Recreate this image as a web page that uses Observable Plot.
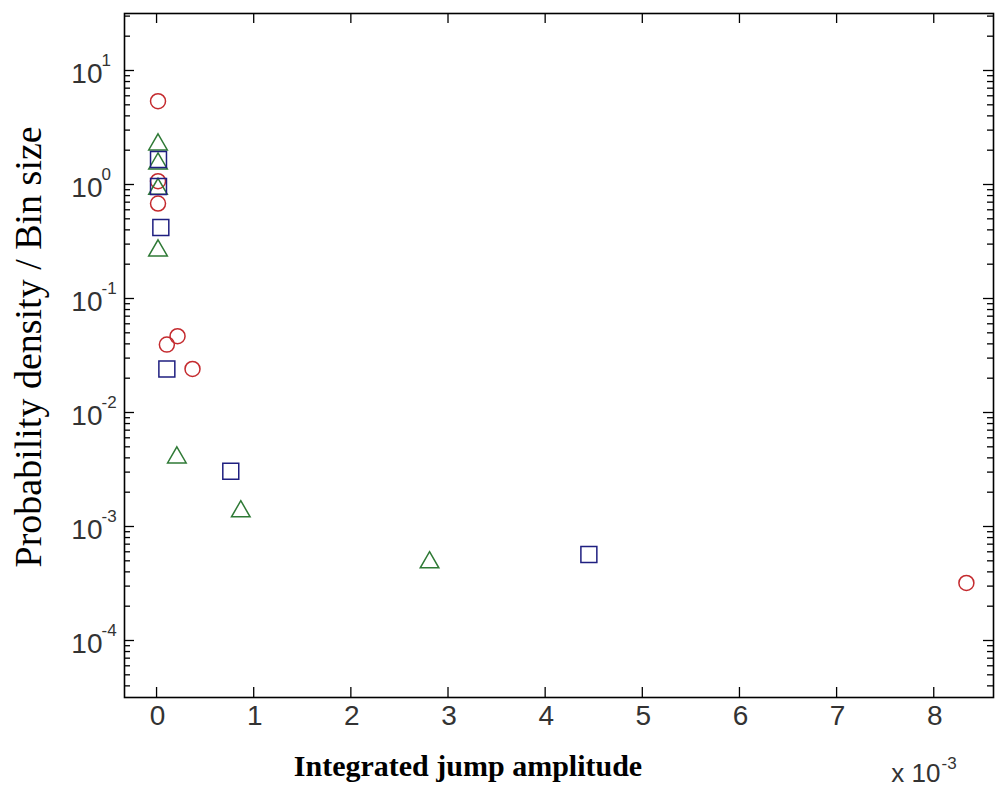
<!DOCTYPE html>
<html>
<head>
<meta charset="utf-8">
<script src="https://cdn.jsdelivr.net/npm/d3@7"></script>
<script src="https://cdn.jsdelivr.net/npm/@observablehq/plot@0.6"></script>
<style>
  html, body { margin: 0; padding: 0; background: #fff; }
  svg { display: block; }
  [aria-label="ticklabel"] text { letter-spacing: 2px; }
</style>
</head>
<body>
<div id="chart"></div>
<script>
// ---- Data (x in units of 10^-3, as on the axis) ----
const circleX   = [0.015, 0.015, 0.015, 0.106, 0.216, 0.370, 8.336];
const circleY   = [5.38, 1.07, 0.68, 0.0394, 0.0467, 0.0241, 0.00032];
const triangleX = [0.015, 0.015, 0.015, 0.015, 0.209, 0.867, 2.81];
const triangleY = [2.38, 1.62, 0.97, 0.28, 0.00428, 0.00144, 0.000514];
const squareX   = [0.02, 0.02, 0.044, 0.106, 0.764, 4.45];
const squareY   = [1.66, 0.96, 0.42, 0.0241, 0.00305, 0.000567];

const xTicks    = [0, 1, 2, 3, 4, 5, 6, 7, 8];
const yTickExps = [-4, -3, -2, -1, 0, 1];
const xLabel = "Integrated jump amplitude";
const yLabel = "Probability density / Bin size";
const xMultiplier = "x 10";
const xMultiplierExp = "-3";

// ---- Derived ----
const circles   = circleX.map((x, i) => ({x, y: circleY[i]}));
const triangles = triangleX.map((x, i) => ({x, y: triangleY[i]}));
const squares   = squareX.map((x, i) => ({x, y: squareY[i]}));
const yDomain = [10 ** -4.5, 10 ** 1.5];
const yMajor = yTickExps.map(e => 10 ** e);
const yMinor = [];
for (let e = -5; e <= 1; e++) for (let m = 2; m <= 9; m++) {
  const v = m * 10 ** e;
  if (v >= yDomain[0] && v <= yDomain[1]) yMinor.push(v);
}

const W = 995, H = 794, mL = 124, mR = 2, mT = 13, mB = 97;
const plotW = W - mL - mR, plotH = H - mT - mB;
const tickFont = "Liberation Sans";
const tickColor = "#333";
const red = "#c42a2e", green = "#2f7a36", blue = "#1f1f80";

const chart = Plot.plot({
  width: W, height: H,
  marginLeft: mL, marginRight: mR, marginTop: mT, marginBottom: mB,
  style: {background: "#fff"},
  x: {domain: [-0.33, 8.615], axis: null},
  y: {type: "log", domain: yDomain, axis: null},
  marks: [
    // ticks (inward, on all four sides)
    Plot.tickY(yMajor, {y: d => d, insetRight: plotW - 10, stroke: "#000", strokeWidth: 1.3}),
    Plot.tickY(yMajor, {y: d => d, insetLeft: plotW - 10, stroke: "#000", strokeWidth: 1.3}),
    Plot.tickY(yMinor, {y: d => d, insetRight: plotW - 6, stroke: "#000", strokeWidth: 1.3}),
    Plot.tickY(yMinor, {y: d => d, insetLeft: plotW - 6, stroke: "#000", strokeWidth: 1.3}),
    Plot.tickX(xTicks, {x: d => d, insetTop: plotH - 10, stroke: "#000", strokeWidth: 1.3}),
    Plot.tickX(xTicks, {x: d => d, insetBottom: plotH - 10, stroke: "#000", strokeWidth: 1.3}),
    Plot.frame({stroke: "#000", strokeWidth: 1.6}),
    // markers
    Plot.dot(circles, {x: "x", y: "y", symbol: "circle", r: 7.5, stroke: red, fill: "none", strokeWidth: 1.5}),
    Plot.dot(triangles, {x: "x", y: "y", symbol: "triangle", r: 6.9, dy: 3, stroke: green, fill: "none", strokeWidth: 1.5}),
    Plot.dot(squares, {x: "x", y: "y", symbol: "square", r: 9, stroke: blue, fill: "none", strokeWidth: 1.5}),
    // y tick labels 10^n
    Plot.text(yTickExps, {y: e => 10 ** e, text: () => "10", frameAnchor: "left", textAnchor: "end",
      dx: -22, dy: 4, fontSize: 28, fontFamily: tickFont, fill: tickColor, ariaLabel: "ticklabel"}),
    Plot.text(yTickExps, {y: e => 10 ** e, text: e => String(e), frameAnchor: "left", textAnchor: "start",
      dx: -23, dy: -10, fontSize: 17, fontFamily: tickFont, fill: tickColor}),
    // x tick labels
    Plot.text(xTicks, {x: d => d, text: d => String(d), frameAnchor: "bottom", dy: 27, dx: 1,
      fontSize: 28, fontFamily: tickFont, fill: tickColor}),
    // multiplier
    Plot.text([xMultiplier], {text: d => d, frameAnchor: "bottom-right", textAnchor: "end",
      dx: -53, dy: 84, fontSize: 26, fontFamily: tickFont, fill: tickColor}),
    Plot.text([xMultiplierExp], {text: d => d, frameAnchor: "bottom-right", textAnchor: "start",
      dx: -52, dy: 71, fontSize: 17, fontFamily: tickFont, fill: tickColor}),
    // axis titles
    Plot.text([xLabel], {text: d => d, frameAnchor: "bottom", dx: -91, dy: 78,
      fontSize: 30, fontWeight: "bold", fontFamily: "Liberation Serif", fill: "#000"}),
    Plot.text([yLabel], {text: d => d, frameAnchor: "left", rotate: -90, textAnchor: "start",
      dx: -96, dy: 212, fontSize: 38, fontFamily: "Liberation Serif", fill: "#000", ariaLabel: "ylabel"})
  ]
});

d3.select(chart).selectAll('[aria-label="ylabel"] text')
  .attr("textLength", 535).attr("lengthAdjust", "spacingAndGlyphs");

document.getElementById("chart").appendChild(chart);
</script>
</body>
</html>
